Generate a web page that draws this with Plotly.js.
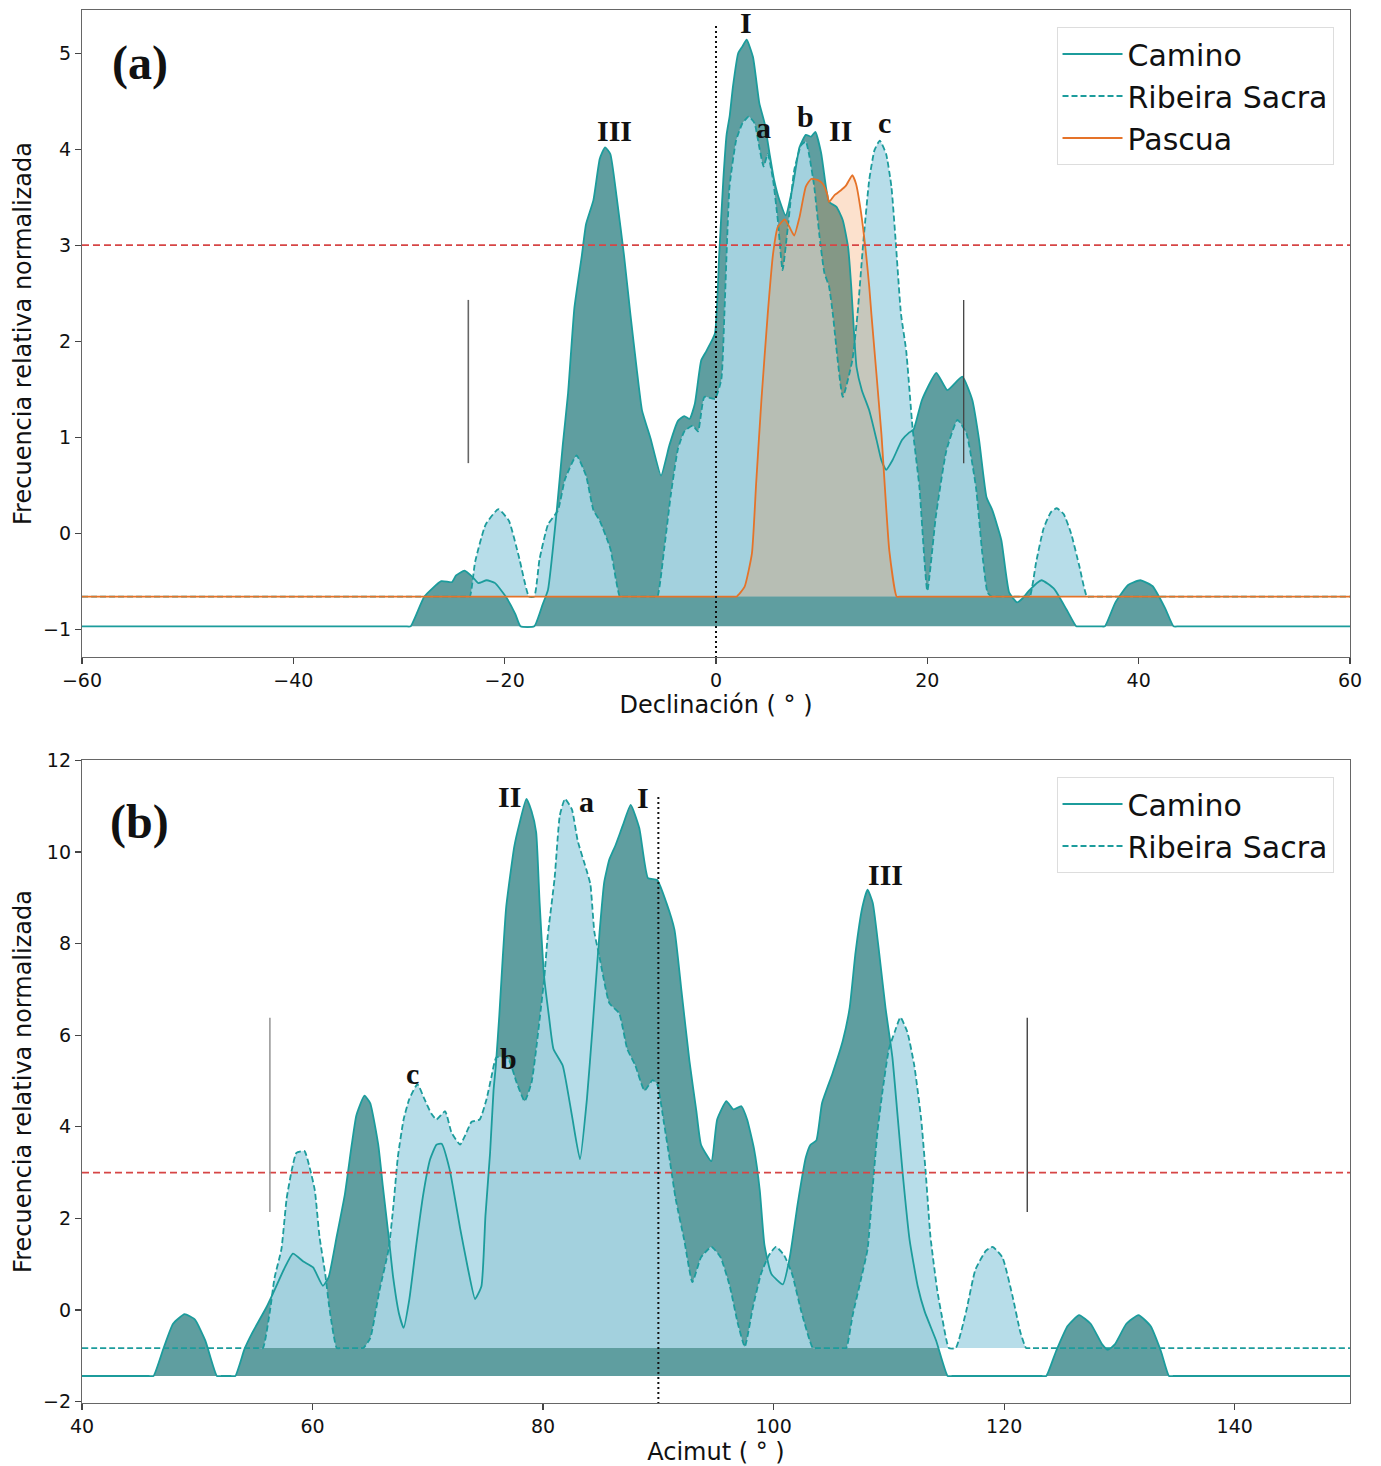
<!DOCTYPE html>
<html>
<head>
<meta charset="utf-8">
<script src="https://cdn.plot.ly/plotly-3.0.1.min.js"></script>
<style>html,body{margin:0;padding:0;background:#fff;}#chart{width:1381px;height:1466px;}</style>
</head>
<body>
<div id="chart"></div>
<script>
// ---------- Panel (a): Declinación ----------
const decCaminoX = [-60, -45, -29.4, -28.9, -27.6, -26.0, -25.0, -24.6, -23.8, -23.0, -22.5, -21.7, -20.9, -19.9, -19.0, -18.5, -17.2, -16.4, -15.9, -15.1, -14.5, -14.0, -13.4, -12.7, -12.3, -11.6, -11.0, -10.5, -10.0, -9.4, -8.7, -8.1, -7.5, -7.0, -6.2, -5.2, -4.4, -3.6, -3.0, -2.5, -2.0, -1.4, -0.9, -0.1, 0.3, 0.7, 1.0, 1.3, 1.6, 2.1, 2.5, 2.9, 3.5, 4.1, 4.6, 5.06, 5.5, 6.0, 6.6, 7.26, 7.9, 8.5, 9.0, 9.4, 9.95, 10.4, 10.7, 11.4, 12.0, 12.5, 12.8, 13.0, 13.3, 13.8, 14.5, 15.2, 15.65, 16.1, 16.7, 17.6, 18.3, 18.7, 19.5, 20.85, 21.9, 23.3, 24.25, 24.9, 25.6, 26.15, 27.0, 27.75, 28.5, 29.0, 29.6, 30.8, 32.0, 33.2, 34.1, 34.5, 36.4, 36.8, 37.8, 39.0, 40.15, 41.3, 42.5, 43.3, 43.8, 52, 60];
const decCaminoY = [-0.97, -0.97, -0.97, -0.97, -0.66, -0.50, -0.51, -0.44, -0.39, -0.46, -0.52, -0.49, -0.52, -0.66, -0.84, -0.97, -0.97, -0.74, -0.59, 0.2, 0.92, 1.46, 2.35, 2.89, 3.22, 3.47, 3.9, 4.02, 3.95, 3.5, 2.89, 2.28, 1.71, 1.28, 0.99, 0.60, 0.92, 1.17, 1.22, 1.19, 1.35, 1.8, 1.9, 2.08, 2.9, 3.7, 4.15, 4.35, 4.65, 5.0, 5.07, 5.14, 4.96, 4.48, 4.27, 3.96, 3.68, 3.47, 3.31, 3.61, 4.02, 4.15, 4.13, 4.18, 3.96, 3.61, 3.45, 3.40, 3.26, 2.98, 2.57, 2.2, 1.73, 1.49, 1.28, 0.97, 0.76, 0.66, 0.76, 0.97, 1.05, 1.08, 1.39, 1.67, 1.49, 1.63, 1.39, 0.97, 0.375, 0.24, -0.07, -0.62, -0.72, -0.68, -0.6, -0.49, -0.58, -0.80, -0.97, -0.97, -0.97, -0.97, -0.72, -0.54, -0.49, -0.55, -0.78, -0.97, -0.97, -0.97, -0.97];

const decRibeiraX = [-60, -42, -23.8, -23.3, -22.8, -21.8, -20.6, -19.6, -18.6, -17.7, -17.2, -16.7, -15.9, -14.95, -14.3, -13.2, -12.3, -11.6, -11.0, -10.0, -9.1, -8.7, -5.95, -5.55, -4.9, -4.3, -3.6, -3.0, -2.2, -1.7, -1.1, -0.1, 0.5, 0.8, 1.28, 1.9, 2.5, 3.1, 3.65, 4.1, 4.5, 4.9, 5.4, 5.85, 6.3, 6.8, 7.4, 8.05, 8.5, 8.8, 9.3, 9.8, 10.26, 10.7, 11.05, 12.0, 12.9, 13.4, 13.9, 14.5, 15.0, 15.5, 16.1, 16.6, 17.0, 17.5, 18.0, 18.6, 19.25, 20.0, 20.8, 21.8, 22.85, 23.7, 24.6, 25.2, 25.7, 26.1, 26.5, 29.3, 29.7, 30.3, 31.0, 31.7, 32.25, 32.9, 33.6, 34.4, 35.1, 35.5, 48, 60];
const decRibeiraY = [-0.66, -0.66, -0.66, -0.66, -0.30, 0.09, 0.25, 0.13, -0.27, -0.66, -0.66, -0.27, 0.09, 0.24, 0.56, 0.81, 0.60, 0.24, 0.13, -0.16, -0.66, -0.66, -0.66, -0.66, -0.16, 0.38, 0.88, 1.06, 1.12, 1.06, 1.42, 1.40, 1.6, 2.3, 3.61, 4.09, 4.27, 4.34, 4.27, 4.02, 3.82, 3.95, 3.68, 3.26, 2.74, 3.19, 3.78, 4.04, 4.08, 3.95, 3.61, 3.09, 2.71, 2.57, 2.29, 1.42, 1.8, 2.29, 2.98, 3.68, 3.99, 4.09, 3.95, 3.61, 3.05, 2.29, 1.9, 1.1, 0.48, -0.6, 0.17, 0.86, 1.18, 1.04, 0.48, -0.21, -0.62, -0.66, -0.66, -0.66, -0.66, -0.3, 0.05, 0.22, 0.26, 0.2, 0.0, -0.35, -0.66, -0.66, -0.66, -0.66];

const decPascuaX = [-60, -30, 1.5, 1.94, 2.7, 3.4, 3.8, 4.3, 4.9, 5.4, 5.85, 6.5, 6.95, 7.4, 7.9, 8.5, 9.0, 9.6, 10.1, 10.5, 10.7, 11.2, 11.8, 12.3, 12.9, 13.25, 13.7, 14.2, 14.5, 14.7, 15.65, 16.4, 17.1, 17.5, 40, 60];
const decPascuaY = [-0.66, -0.66, -0.66, -0.66, -0.56, -0.21, 0.52, 1.39, 2.29, 2.91, 3.19, 3.27, 3.19, 3.10, 3.29, 3.61, 3.69, 3.68, 3.64, 3.54, 3.45, 3.52, 3.57, 3.62, 3.73, 3.64, 3.36, 2.91, 2.57, 2.29, 1.04, -0.18, -0.66, -0.66, -0.66, -0.66];

// ---------- Panel (b): Acimut ----------
const aziCaminoX = [40, 43, 45.8, 46.2, 47.05, 47.9, 48.9, 49.8, 50.7, 51.7, 52.1, 52.9, 53.3, 54.1, 54.7, 56.0, 56.6, 57.5, 58.3, 59.2, 60.05, 60.9, 61.4, 62.1, 62.8, 63.4, 63.8, 64.5, 65.0, 65.7, 66.1, 66.6, 67.0, 67.5, 67.9, 68.4, 69.0, 69.6, 70.2, 70.75, 71.2, 71.9, 72.8, 73.5, 74.1, 74.65, 75.0, 75.4, 75.7, 75.9, 76.2, 76.5, 76.8, 77.5, 77.95, 78.55, 79.0, 79.4, 79.7, 80.1, 80.5, 80.9, 81.7, 82.5, 83.2, 83.8, 84.3, 84.9, 85.3, 85.75, 86.3, 86.9, 87.6, 88.35, 89.1, 89.9, 90.7, 91.4, 92.0, 92.7, 93.3, 93.7, 94.6, 95.1, 95.9, 96.5, 97.2, 97.7, 98.3, 98.8, 99.2, 99.8, 100.8, 101.4, 102.1, 102.8, 103.2, 103.7, 104.2, 105.1, 106.0, 106.6, 107.1, 107.7, 108.15, 108.6, 109.2, 109.7, 110.3, 110.75, 111.2, 111.8, 112.5, 113.1, 114.1, 115.1, 115.5, 119.5, 123.25, 123.65, 124.5, 125.5, 126.5, 127.5, 128.5, 129.0, 129.6, 130.6, 131.65, 132.7, 133.6, 134.3, 134.7, 142, 150];
const aziCaminoY = [-1.44, -1.44, -1.44, -1.44, -0.85, -0.30, -0.09, -0.21, -0.67, -1.44, -1.44, -1.44, -1.44, -0.85, -0.53, 0.06, 0.38, 0.88, 1.23, 1.06, 0.93, 0.53, 0.72, 1.61, 2.52, 3.61, 4.25, 4.68, 4.52, 3.61, 2.70, 1.61, 0.70, -0.08, -0.39, 0.24, 1.43, 2.52, 3.29, 3.61, 3.63, 3.06, 1.79, 0.88, 0.24, 0.52, 2.06, 3.43, 4.79, 5.34, 6.43, 7.70, 8.80, 10.12, 10.62, 11.16, 10.89, 10.43, 8.89, 7.25, 6.43, 5.70, 5.34, 4.25, 3.29, 4.6, 6.2, 8.25, 9.34, 9.84, 10.16, 10.57, 11.03, 10.52, 9.43, 9.39, 8.89, 8.30, 6.98, 5.43, 4.34, 3.61, 3.25, 4.16, 4.56, 4.38, 4.45, 4.16, 3.52, 2.61, 1.43, 0.79, 0.56, 1.15, 2.34, 3.34, 3.61, 3.70, 4.52, 5.16, 5.88, 6.61, 7.80, 8.80, 9.18, 8.89, 7.70, 6.61, 5.52, 4.25, 2.97, 1.52, 0.52, -0.03, -0.67, -1.44, -1.44, -1.44, -1.44, -1.44, -0.9, -0.35, -0.11, -0.3, -0.75, -0.87, -0.75, -0.3, -0.11, -0.35, -0.9, -1.44, -1.44, -1.44, -1.44];

const aziRibeiraX = [40, 48, 55.3, 55.7, 56.3, 56.7, 57.3, 57.75, 58.2, 58.6, 59.3, 59.8, 60.2, 60.6, 61.1, 61.5, 62.1, 62.5, 64.0, 64.4, 65.0, 65.8, 66.6, 67.0, 67.4, 67.9, 68.4, 69.1, 69.7, 70.3, 70.75, 71.5, 72.05, 72.8, 73.2, 73.8, 74.5, 75.1, 75.5, 75.95, 76.95, 77.7, 78.4, 79.0, 79.4, 80.1, 80.4, 81.0, 81.45, 81.9, 82.5, 83.0, 83.75, 84.1, 84.45, 84.9, 85.75, 86.6, 87.3, 88.0, 88.8, 89.5, 89.9, 90.5, 90.95, 91.5, 92.25, 92.95, 93.7, 94.6, 95.4, 96.2, 96.9, 97.5, 98.2, 98.9, 99.6, 100.2, 100.9, 101.6, 102.4, 103.4, 103.8, 105.9, 106.3, 106.85, 107.6, 108.15, 108.6, 109.0, 109.45, 110.0, 110.5, 111.0, 111.6, 112.2, 112.8, 113.2, 113.6, 114.2, 114.65, 115.2, 115.8, 116.7, 117.5, 118.4, 119.0, 119.85, 120.7, 121.4, 121.9, 122.3, 136, 150];
const aziRibeiraY = [-0.83, -0.83, -0.83, -0.83, -0.03, 0.70, 1.33, 2.43, 3.06, 3.43, 3.47, 3.06, 2.61, 1.61, 0.79, -0.03, -0.83, -0.83, -0.83, -0.83, -0.62, 0.42, 1.33, 2.24, 3.34, 4.16, 4.61, 4.93, 4.61, 4.29, 4.16, 4.34, 3.88, 3.61, 3.79, 4.11, 4.16, 4.61, 5.07, 5.52, 5.50, 4.97, 4.56, 4.97, 5.70, 7.25, 8.16, 9.43, 10.80, 11.16, 10.93, 10.25, 9.62, 9.3, 8.25, 7.70, 6.70, 6.48, 5.70, 5.34, 4.79, 5.02, 4.93, 4.06, 3.34, 2.43, 1.52, 0.61, 1.15, 1.38, 1.15, 0.52, -0.30, -0.80, 0.06, 0.79, 1.20, 1.38, 1.20, 0.79, -0.03, -0.83, -0.83, -0.83, -0.83, -0.12, 0.70, 1.33, 2.70, 3.88, 4.79, 5.70, 6.07, 6.39, 6.07, 5.34, 4.16, 2.97, 1.61, 0.42, -0.21, -0.83, -0.83, -0.03, 0.88, 1.29, 1.38, 1.15, 0.33, -0.48, -0.83, -0.83, -0.83, -0.83];

// Reference lines and labels
const threshold = 3;
const decSolstices = [-23.44, 23.44];
const aziLimits = [56.3, 122.0];
const decCenter = 0;
const aziCenter = 90;
const decLabels = ['I', 'III', 'a', 'b', 'II', 'c'];
const aziLabels = ['II', 'a', 'I', 'III', 'c', 'b'];
const seriesNames = ['Camino', 'Ribeira Sacra', 'Pascua'];

// ---------- styles ----------
const C_LINE = '#1c9c9c';
const C_FILL = '#5f9ea0';
const R_FILL = 'rgba(173,216,230,0.88)';
const P_LINE = '#e57329';
const P_FILL = 'rgba(245,135,55,0.25)';
const SH = {shape: 'spline', smoothing: 0.45};

function fillTr(x, y, color, xa, ya) {
  return {x: x, y: y, type: 'scatter', mode: 'lines', fill: 'toself', fillcolor: color,
    line: Object.assign({width: 0, color: color}, SH), hoverinfo: 'skip', showlegend: false, xaxis: xa, yaxis: ya};
}
function lineTr(x, y, name, color, dash, xa, ya, leg) {
  return {x: x, y: y, type: 'scatter', mode: 'lines', name: name,
    line: Object.assign({width: 1.8, color: color, dash: dash}, SH), xaxis: xa, yaxis: ya, legend: leg};
}

const traces = [
  fillTr(decCaminoX, decCaminoY, C_FILL, 'x', 'y'),
  fillTr(decRibeiraX, decRibeiraY, R_FILL, 'x', 'y'),
  fillTr(decPascuaX, decPascuaY, P_FILL, 'x', 'y'),
  lineTr(decCaminoX, decCaminoY, seriesNames[0], C_LINE, 'solid', 'x', 'y', 'legend'),
  lineTr(decRibeiraX, decRibeiraY, seriesNames[1], C_LINE, '6px,3px', 'x', 'y', 'legend'),
  lineTr(decPascuaX, decPascuaY, seriesNames[2], P_LINE, 'solid', 'x', 'y', 'legend'),
  fillTr(aziCaminoX, aziCaminoY, C_FILL, 'x2', 'y2'),
  fillTr(aziRibeiraX, aziRibeiraY, R_FILL, 'x2', 'y2'),
  lineTr(aziCaminoX, aziCaminoY, seriesNames[0], C_LINE, 'solid', 'x2', 'y2', 'legend2'),
  lineTr(aziRibeiraX, aziRibeiraY, seriesNames[1], C_LINE, '6px,3px', 'x2', 'y2', 'legend2')
];

const FONT = 'DejaVu Sans, sans-serif';
const SERIF = 'Liberation Serif, Times New Roman, serif';
const axCommon = {
  showgrid: false, zeroline: false, showline: true, mirror: true, linecolor: '#666', linewidth: 1.2,
  ticks: 'outside', ticklen: 6, tickwidth: 1.2, tickcolor: '#444',
  tickfont: {family: FONT, size: 19, color: '#111'}
};

const shapes = [];
function hline(xref, yref, y) {
  shapes.push({type: 'line', xref: xref + ' domain', yref: yref, x0: 0, x1: 1, y0: y, y1: y,
    line: {color: '#d64545', width: 1.8, dash: '7px,4px'}});
}
function vline(xref, yref, x, y0, y1, color, width, dash) {
  shapes.push({type: 'line', xref: xref, yref: yref, x0: x, x1: x, y0: y0, y1: y1,
    line: {color: color, width: width, dash: dash || 'solid'}});
}
hline('x', 'y', threshold);
hline('x2', 'y2', threshold);
vline('x', 'y', decSolstices[0], 0.73, 2.43, '#666', 1.6);
vline('x', 'y', decSolstices[1], 0.73, 2.43, '#444', 1.3);
vline('x2', 'y2', aziLimits[0], 2.14, 6.38, '#9a9a9a', 1.6);
vline('x2', 'y2', aziLimits[1], 2.14, 6.38, '#333', 1.3);
vline('x', 'y', decCenter, -1.3, 5.29, '#111', 2, '2px,3px');
vline('x2', 'y2', aziCenter, -2.05, 11.24, '#111', 2, '2px,3px');

function lab(text, x, y, xref, yref, size) {
  return {text: '<b>' + text + '</b>', x: x, y: y, xref: xref, yref: yref, showarrow: false,
    xanchor: 'center', yanchor: 'middle', font: {family: SERIF, size: size || 30, color: '#111'}};
}
const decPos = [[2.88, 5.32], [-9.6, 4.2], [4.5, 4.23], [8.46, 4.34], [11.8, 4.2], [15.93, 4.28]];
const aziPos = [[77.1, 11.22], [83.74, 11.11], [88.7, 11.2], [109.74, 9.5], [68.7, 5.17], [76.96, 5.5]];
const annotations = [];
decLabels.forEach((t, i) => annotations.push(lab(t, decPos[i][0], decPos[i][1], 'x', 'y')));
aziLabels.forEach((t, i) => annotations.push(lab(t, aziPos[i][0], aziPos[i][1], 'x2', 'y2')));
annotations.push(lab('(a)', -54.5, 4.9, 'x', 'y', 48));
annotations.push(lab('(b)', 45.0, 10.66, 'x2', 'y2', 48));

const legStyle = {font: {family: FONT, size: 30, color: '#111'}, bgcolor: 'rgba(255,255,255,0.85)',
  bordercolor: '#ddd', borderwidth: 1, xanchor: 'right', yanchor: 'top', x: 0.987, itemwidth: 60};

const layout = {
  width: 1381, height: 1466,
  margin: {l: 82, r: 31, t: 10, b: 63},
  paper_bgcolor: '#fff', plot_bgcolor: '#fff',
  showlegend: true,
  font: {family: FONT, color: '#111'},
  xaxis: Object.assign({}, axCommon, {domain: [0, 1], anchor: 'y', range: [-60, 60], tickvals: [-60, -40, -20, 0, 20, 40, 60],
    title: {text: 'Declinación ( ° )', font: {family: FONT, size: 24}, standoff: 6}}),
  yaxis: Object.assign({}, axCommon, {domain: [0.5355, 1], anchor: 'x', range: [-1.29, 5.45], tickvals: [-1, 0, 1, 2, 3, 4, 5],
    title: {text: 'Frecuencia relativa normalizada', font: {family: FONT, size: 24}, standoff: 4}}),
  xaxis2: Object.assign({}, axCommon, {domain: [0, 1], anchor: 'y2', range: [40, 150], tickvals: [40, 60, 80, 100, 120, 140],
    title: {text: 'Acimut ( ° )', font: {family: FONT, size: 24}, standoff: 8}}),
  yaxis2: Object.assign({}, axCommon, {domain: [0, 0.4616], anchor: 'x2', range: [-2.03, 12.01], tickvals: [-2, 0, 2, 4, 6, 8, 10, 12],
    title: {text: 'Frecuencia relativa normalizada', font: {family: FONT, size: 24}, standoff: 4}}),
  legend: Object.assign({}, legStyle, {y: 0.9878}),
  legend2: Object.assign({}, legStyle, {y: 0.4494}),
  shapes: shapes,
  annotations: annotations
};

Plotly.newPlot('chart', traces, layout, {displayModeBar: false, staticPlot: true});
</script>
</body>
</html>
